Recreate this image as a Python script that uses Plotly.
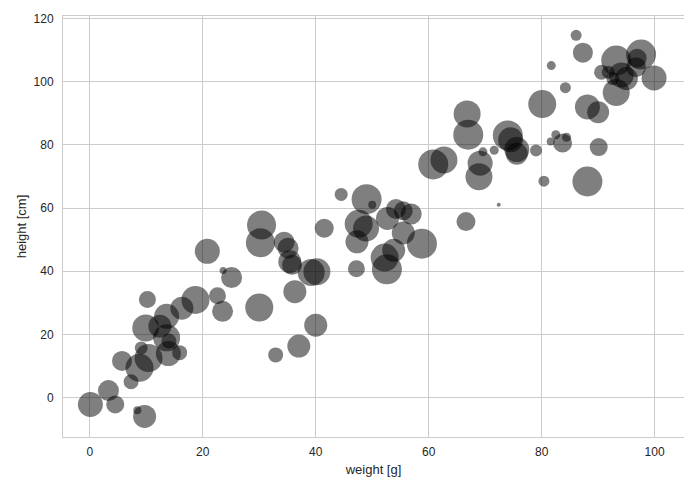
import plotly.graph_objects as go

# scatter data: weight [g], height [cm], marker diameter [px]
weight = [0.1, 3.3, 4.5, 8.4, 9.7, 7.3, 5.7, 8.8, 9.1, 10.4,
          10.2, 9.9, 12.4, 13.6, 13.6, 13.9, 14.0, 15.9, 16.3, 18.7,
          22.6, 23.5, 23.6, 25.1, 20.8, 30.0, 30.4, 30.2, 32.9, 34.4,
          35.1, 35.4, 35.8, 36.3, 37.0, 39.2, 40.2, 40.0, 41.5, 44.5,
          47.2, 47.3, 49.0, 50.0, 47.6, 48.9, 52.7, 54.2, 55.5, 56.9,
          55.5, 58.8, 53.8, 52.2, 52.6, 60.8, 62.7, 66.6, 69.1, 68.9,
          69.6, 71.6, 72.4, 66.8, 67.0, 74.0, 74.5, 75.6, 75.6, 79.0,
          80.4, 80.1, 81.7, 84.2, 82.5, 81.6, 83.7, 84.4, 88.1, 90.0,
          90.1, 88.1, 86.1, 87.3, 90.6, 91.8, 93.2, 92.6, 94.1, 95.0,
          93.2, 97.6, 96.9, 96.7, 99.9]
height = [-2.2, 2.2, -2.2, -4.0, -6.0, 5.0, 11.6, 9.4, 15.7, 12.5,
          31.0, 22.0, 22.6, 25.7, 18.9, 13.9, 17.9, 14.2, 28.3, 30.9,
          32.2, 27.3, 40.2, 38.0, 46.3, 28.5, 54.6, 49.0, 13.5, 49.2,
          47.3, 43.0, 42.0, 33.5, 16.3, 39.6, 39.8, 22.9, 53.6, 64.3,
          40.8, 49.3, 62.8, 61.0, 55.0, 53.5, 56.7, 59.7, 59.1, 58.1,
          52.1, 48.7, 46.6, 44.3, 40.6, 73.8, 75.2, 55.7, 74.2, 69.9,
          77.8, 78.3, 61.0, 89.8, 83.2, 83.0, 81.6, 78.5, 77.2, 78.2,
          68.5, 92.9, 105.1, 98.1, 83.2, 81.1, 80.6, 82.4, 92.0, 90.3,
          79.3, 68.4, 114.7, 109.2, 103.0, 103.0, 106.7, 101.0, 102.1, 101.0,
          96.6, 108.6, 107.4, 104.6, 101.2]
size = [25, 21, 18, 8, 23, 15, 20, 28, 13, 28,
        17, 27, 23, 25, 27, 25, 15, 15, 23, 28,
        17, 21, 7, 21, 25, 28, 29, 29, 15, 21,
        21, 23, 20, 23, 23, 27, 27, 23, 19, 13,
        17, 23, 30, 8, 28, 26, 23, 20, 19, 21,
        23, 30, 23, 28, 30, 30, 27, 19, 25, 27,
        9, 9, 4, 27, 30, 30, 25, 25, 22, 12,
        11, 28, 9, 11, 9, 8, 19, 9, 25, 22,
        18, 30, 11, 20, 15, 13, 30, 13, 25, 23,
        27, 30, 19, 20, 25]

x_ticks = [0, 20, 40, 60, 80, 100]
y_ticks = [0, 20, 40, 60, 80, 100, 120]

fig = go.Figure(go.Scatter(
    x=weight, y=height, mode='markers',
    marker=dict(size=size, color='black', opacity=0.5, line=dict(width=0)),
))

axis_style = dict(showgrid=True, gridcolor='#cccccc', gridwidth=1,
                  zeroline=False, showline=True, linecolor='#cccccc',
                  linewidth=1, mirror=True, ticks='',
                  ticklabeloverflow='allow',
                  tickfont=dict(size=12, color='#262626'))

# the page body adds an 8px offset, so margins are shifted to compensate
fig.update_layout(
    width=692, height=489,
    margin=dict(l=55, r=16, t=4, b=60),
    paper_bgcolor='white', plot_bgcolor='white',
    font=dict(family='Liberation Sans, Arial, sans-serif', size=12,
              color='#262626'),
    showlegend=False,
    xaxis=dict(range=[-4.75, 105.2], tickvals=x_ticks,
               title=dict(text='weight [g]', standoff=6,
                          font=dict(size=13)),
               ticklabelstandoff=4, **axis_style),
    yaxis=dict(range=[-12.5, 120.8], tickvals=y_ticks,
               title=dict(text='height [cm]', standoff=4,
                          font=dict(size=13)),
               ticklabelstandoff=6, **axis_style),
)

fig.write_html("out.html")
